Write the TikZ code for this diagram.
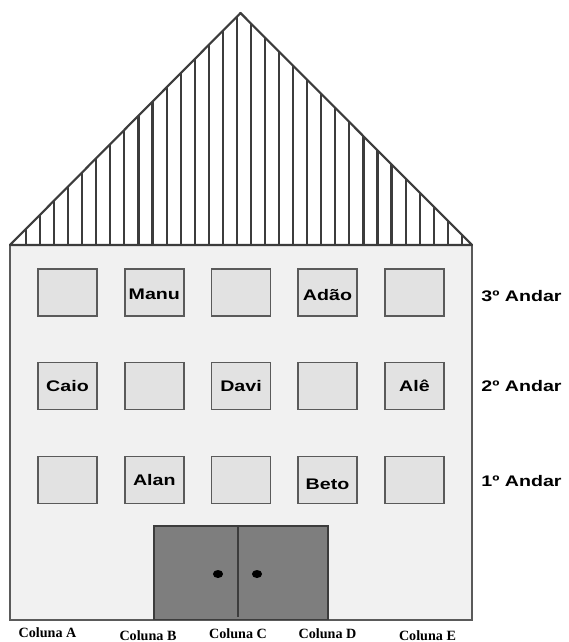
\documentclass[tikz,border=0pt]{standalone}
\usepackage{fontspec}
\newfontfamily\rotulo[FakeStretch=1.28]{Liberation Sans}
\newfontfamily\coluna{Liberation Serif}
\definecolor{parede}{HTML}{F1F1F1}
\definecolor{vidro}{HTML}{E2E2E2}
\definecolor{contorno}{HTML}{5A5A5A}
\definecolor{porta}{HTML}{7E7E7E}
\definecolor{telha}{HTML}{3C3C3C}
\begin{document}
\begin{tikzpicture}[x=0.75pt,y=-0.75pt]
\tikzstyle{janela}=[draw=contorno,fill=vidro,line width=1.3pt,minimum width=44.25pt,minimum height=35.25pt,inner sep=0pt,font=\rotulo\bfseries\fontsize{11.5}{13}\selectfont]
\tikzstyle{andar}=[inner sep=0pt,font=\rotulo\bfseries\fontsize{11.5}{13}\selectfont]
\tikzstyle{col}=[inner sep=0pt,font=\coluna\bfseries\fontsize{10.6}{12}\selectfont]
\useasboundingbox (0,0) rectangle (568,642);

% predio
\draw[draw=contorno,fill=parede,line width=1.5pt] (10,245) rectangle (472,620);

% telhado
\fill[white] (10,245) -- (240.5,13) -- (472,245) -- cycle;
\begin{scope}
\clip (10,245) -- (240.5,13) -- (472,245) -- cycle;
\foreach \k in {0,...,31}
  \draw[telha,line width=1.6pt] (26+14.06*\k,246) -- ++(0,-240);
\end{scope}
\draw[telha,line width=1.6pt,line join=round] (10,245) -- (240.5,13) -- (472,245) -- cycle;

% janelas
\node[janela](a3) at (67.5,292.5) {};
\node[janela](b3) at (154.3,292.5) {\raisebox{-1pt}[\height][0pt]{Manu}};
\node[janela](c3) at (241,292.5) {};
\node[janela](d3) at (327.5,292.5) {\raisebox{-2pt}[\height][0pt]{Adão}};
\node[janela](e3) at (414.5,292.5) {};
\node[janela](a2) at (67.5,386) {Caio};
\node[janela](b2) at (154.3,386) {};
\node[janela](c2) at (241,386) {Davi};
\node[janela](d2) at (327.5,386) {};
\node[janela](e2) at (414.5,386) {Alê};
\node[janela](a1) at (67.5,480) {};
\node[janela](b1) at (154.3,480) {Alan};
\node[janela](c1) at (241,480) {};
\node[janela](d1) at (327.5,480) {\raisebox{-3pt}[\height][0pt]{Beto}};
\node[janela](e1) at (414.5,480) {};

% porta
\draw[draw=telha,fill=porta,line width=1pt] (154,526) rectangle (328,619.5);
\draw[telha,line width=2pt] (238,526) -- (238,617);
\fill[black] (218,574) ellipse [x radius=3.8pt,y radius=3pt];
\fill[black] (257,574) ellipse [x radius=3.8pt,y radius=3pt];

% andares
\node[andar](and3) at (521.5,296) {3º Andar};
\node[andar](and2) at (521.5,386) {2º Andar};
\node[andar](and1) at (521.5,481) {1º Andar};

% colunas
\node[col](colA) at (47.5,633) {Coluna A};
\node[col](colB) at (148,636) {Coluna B};
\node[col](colC) at (238,634) {Coluna C};
\node[col](colD) at (327.5,634) {Coluna D};
\node[col](colE) at (427.5,636) {Coluna E};
\end{tikzpicture}
\end{document}
